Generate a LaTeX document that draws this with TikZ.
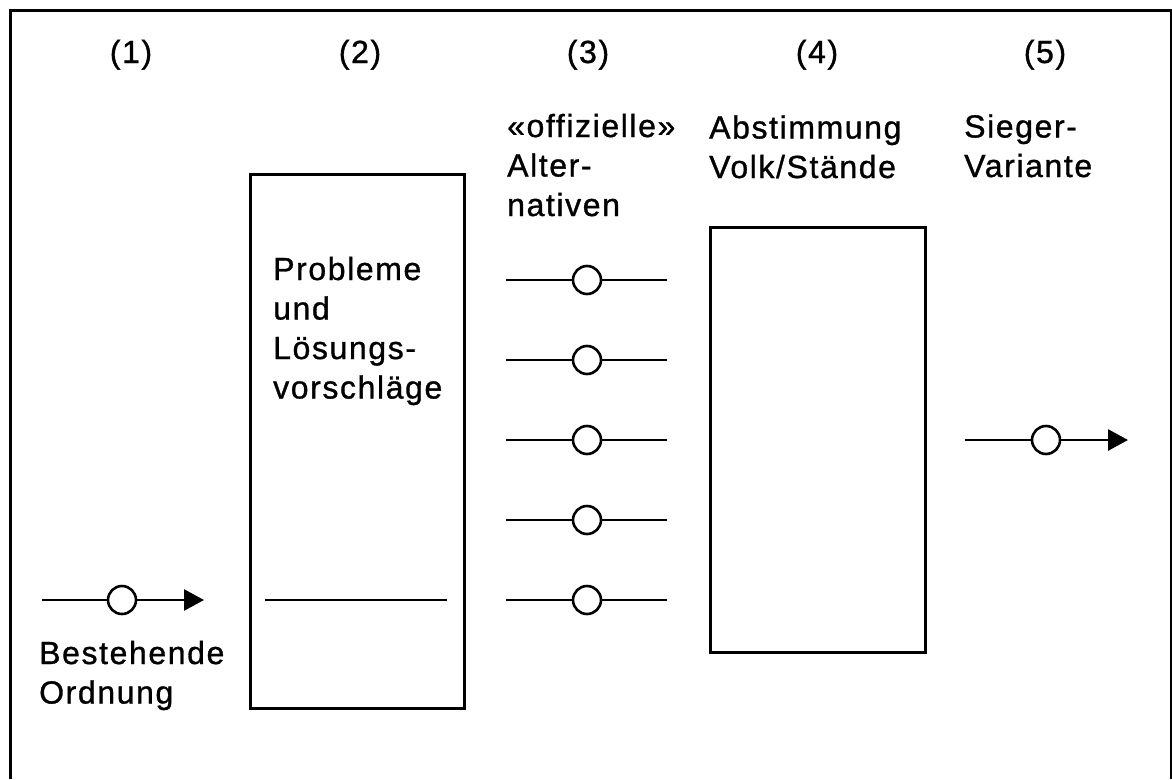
\documentclass[tikz,border=0pt]{standalone}
\usepackage{fontspec}
\setmainfont{Liberation Sans}[LetterSpace=5,FakeBold=1]
\usetikzlibrary{arrows.meta}
\begin{document}
\begin{tikzpicture}[x=1pt,y=-1pt,
  lbl/.style={inner sep=0pt,anchor=base west,align=left,font=\fontsize{32}{39.5}\selectfont},
  num/.style={inner sep=0pt,anchor=base,font=\fontsize{32}{39.5}\selectfont},
  boxline/.style={line width=3pt},
  conn/.style={line width=2.8pt},
  dot/.style={circle,draw,line width=2.6pt,minimum size=28pt,inner sep=0pt,fill=white},
  arr/.style={conn,-{Triangle[length=20pt,width=21pt]}}]
\useasboundingbox (0,0) rectangle (1172,779);
% outer frame
\draw[boxline] (10,779) -- (10,10) -- (1171,10) -- (1171,779);
% column numbers
\node[num] (n1) at (131,63) {(1)};
\node[num] (n2) at (360,63) {(2)};
\node[num] (n3) at (588,63) {(3)};
\node[num] (n4) at (817,63) {(4)};
\node[num] (n5) at (1045,63) {(5)};
% headings (anchored at the baseline of the last line)
\node[lbl] (t3) at (507,216) {«offizielle»\\Alter-\\nativen};
\node[lbl] (t4) at (709,178) {Abstimmung\\Volk/Stände};
\node[lbl] (t5) at (964,177) {Sieger-\\Variante};
% boxes
\draw[boxline] (250,174) rectangle (464,708);
\draw[boxline] (710,227) rectangle (925,652);
\node[lbl] (t2) at (273,398.5) {Probleme\\und\\Lösungs-\\vorschläge};
\coordinate (b2l) at (265,600);
\coordinate (b2r) at (447,600);
\draw[conn] (b2l) -- (b2r);
% (1) existing order
\coordinate (s1) at (42,600);
\node[dot] (c1) at (122,600) {};
\coordinate (e1) at (204,600);
\draw[conn] (s1) -- (c1);
\draw[arr] (c1) -- (e1);
\node[lbl] (t1) at (39,703.5) {Bestehende\\Ordnung};
% (3) alternatives
\foreach \i/\y in {1/280,2/360,3/440,4/520,5/600}{
  \coordinate (al\i) at (506,\y);
  \node[dot] (ac\i) at (587,\y) {};
  \coordinate (ar\i) at (667,\y);
  \draw[conn] (al\i) -- (ac\i) -- (ar\i);
}
% (5) winner
\coordinate (s5) at (965,440);
\node[dot] (c5) at (1046,440) {};
\coordinate (e5) at (1128,440);
\draw[conn] (s5) -- (c5);
\draw[arr] (c5) -- (e5);
\end{tikzpicture}
\end{document}
